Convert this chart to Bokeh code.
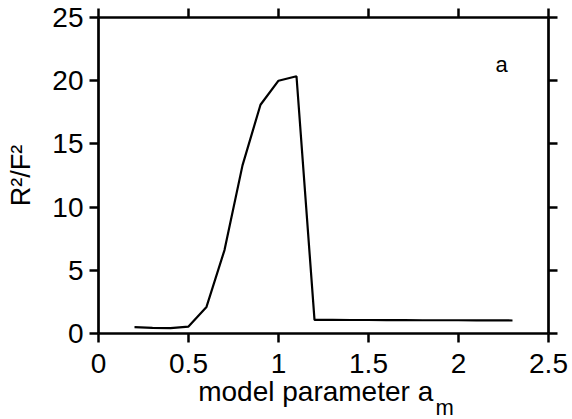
from bokeh.plotting import figure
from bokeh.models import Range1d, LinearAxis, FixedTicker, Label, Title
from bokeh.embed import file_html
from bokeh.resources import INLINE

# data
am = [0.2, 0.3, 0.4, 0.5, 0.6, 0.7, 0.8, 0.9, 1.0, 1.1, 1.2,
      1.3, 1.4, 1.5, 1.6, 1.7, 1.8, 1.9, 2.0, 2.1, 2.2, 2.3]
ratio = [0.50, 0.45, 0.42, 0.55, 2.1, 6.6, 13.3, 18.1, 20.0, 20.35, 1.08,
         1.08, 1.07, 1.07, 1.06, 1.06, 1.05, 1.05, 1.05, 1.04, 1.04, 1.03]
x_ticks = [0, 0.5, 1, 1.5, 2, 2.5]
x_tick_labels = ["0", "0.5", "1", "1.5", "2", "2.5"]
y_ticks = [0, 5, 10, 15, 20, 25]
y_tick_labels = ["0", "5", "10", "15", "20", "25"]

FONT = "Liberation Sans"
NB = "\u00a0"

p = figure(width=572, height=419, x_range=Range1d(0, 2.5), y_range=Range1d(0, 25),
           output_backend="svg", toolbar_location=None,
           min_border_left=98, min_border_right=24, min_border_top=17, min_border_bottom=86)
p.xgrid.visible = False
p.ygrid.visible = False
p.outline_line_color = None
p.background_fill_color = "white"
p.border_fill_color = "white"

p.line(am, ratio, line_color="black", line_width=2.2)

def style(ax, labels, ticks, show):
    ax.ticker = FixedTicker(ticks=ticks)
    ax.minor_tick_line_color = None
    ax.major_tick_in = 0
    ax.major_tick_out = 9
    ax.major_tick_line_width = 2.5
    ax.axis_line_width = 2.7
    ax.axis_line_color = "black"
    ax.major_tick_line_color = "black"
    if show:
        ax.major_label_overrides = {t: l for t, l in zip(ticks, labels)}
        ax.major_label_text_font = FONT
        ax.major_label_text_font_size = "28px"
        ax.major_label_text_color = "black"
        ax.major_label_standoff = 6
        ax.axis_label_text_font = FONT
        ax.axis_label_text_font_size = "28px"
        ax.axis_label_text_font_style = "normal"
        ax.axis_label_text_color = "black"
    else:
        ax.major_label_overrides = {t: "" for t in ticks}
        ax.major_label_text_font_size = "1px"
        ax.major_label_standoff = 0

style(p.xaxis[0], x_tick_labels, x_ticks, True)
style(p.yaxis[0], y_tick_labels, y_ticks, True)
p.xaxis[0].major_label_standoff = 11
p.xaxis[0].axis_label = "model parameter a" + NB + NB
p.xaxis[0].axis_label_standoff = 0
p.yaxis[0].axis_label = "R²/F²"
p.yaxis[0].axis_label_text_font_size = "27px"
p.yaxis[0].axis_label_standoff = 13

top = LinearAxis()
style(top, x_tick_labels, x_ticks, False)
p.add_layout(top, "above")
right = LinearAxis()
style(right, y_tick_labels, y_ticks, False)
p.add_layout(right, "right")

p.add_layout(Title(text="m", align="left", offset=337, standoff=-30, vertical_align="top",
                   text_font=FONT, text_font_size="22px", text_font_style="normal",
                   text_color="black"), "below")
p.add_layout(Label(x=2.24, y=21.25, text="a", text_align="center",
                   text_baseline="alphabetic", text_font=FONT, text_font_size="22px",
                   text_color="black"))

open("out.html", "w").write(file_html(p, INLINE))
